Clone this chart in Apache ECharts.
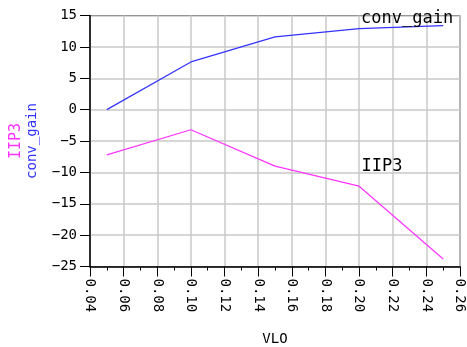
<!DOCTYPE html>
<html><head><meta charset="utf-8">
<script src="https://cdn.jsdelivr.net/npm/echarts@6/dist/echarts.min.js"></script>
<style>html,body{margin:0;padding:0;background:#fff}#c{width:467px;height:347px}</style>
</head><body><div id="c"></div>
<script>
const vlo = [0.05, 0.10, 0.15, 0.20, 0.25];
const convGain = [0.0, 7.6, 11.6, 12.9, 13.4];
const iip3 = [-7.2, -3.2, -9.0, -12.2, -23.8];
const xTicks = ['0.04','0.06','0.08','0.10','0.12','0.14','0.16','0.18','0.20','0.22','0.24','0.26'];
const yTicks = [-25, -20, -15, -10, -5, 0, 5, 10, 15];

const F = 'DejaVu Sans Mono';
const chart = echarts.init(document.getElementById('c'), null, {renderer:'canvas'});

function mk(vals, labelIdx, labelText, off) {
  return vals.map((v, i) => {
    const d = {value: [vlo[i], v]};
    if (i === labelIdx) {
      d.label = {show: true, formatter: labelText, position: 'top', offset: off,
        color: '#000', fontFamily: F, fontSize: 17};
    }
    return d;
  });
}

chart.setOption({
  animation: false,
  grid: {left: 90, right: 7, top: 15.5, bottom: 80.5, show: true, borderColor: '#000', borderWidth: 1,
         containLabel: false, outerBoundsMode: 'none'},
  xAxis: {
    type: 'value', min: 0.04, max: 0.26, interval: 0.02,
    name: 'VLO', nameLocation: 'middle', nameGap: 66,
    nameTextStyle: {fontFamily: F, fontSize: 14, color: '#000'},
    axisLine: {show: true, onZero: false, lineStyle: {color: '#000', width: 1.5}},
    axisTick: {show: true, length: 10, lineStyle: {color: '#000'}},
    minorTick: {show: true, splitNumber: 2, length: 4, lineStyle: {color: '#000'}},
    splitLine: {show: true, lineStyle: {color: '#c8c8c8', width: 1.5}},
    axisLabel: {rotate: -90, margin: 12, fontFamily: F, fontSize: 14, color: '#000',
      formatter: v => { const s = v.toFixed(2); return xTicks.includes(s) ? s : ''; }}
  },
  yAxis: {
    type: 'value', min: yTicks[0], max: yTicks[yTicks.length-1], interval: 5,
    name: '{a|IIP3}\n{b|conv_gain}', nameLocation: 'middle', nameGap: 50, nameRotate: 90,
    nameTextStyle: {fontFamily: F, fontSize: 14, lineHeight: 16,
      rich: {a: {color: '#ff33ff', fontFamily: F, fontSize: 15, lineHeight: 16},
             b: {color: '#3333ff', fontFamily: F, fontSize: 14, lineHeight: 16}}},
    axisLine: {show: true, onZero: false, lineStyle: {color: '#000', width: 1.5}},
    axisTick: {show: true, length: 10, lineStyle: {color: '#000'}},
    splitLine: {show: true, lineStyle: {color: '#c8c8c8', width: 1.5}},
    axisLabel: {margin: 13, fontFamily: F, fontSize: 14, color: '#000',
      formatter: v => String(v).replace('-', '\u2212')}
  },
  series: [
    {name: 'conv_gain', type: 'line', showSymbol: true, symbol: 'circle', symbolSize: 0.01,
     lineStyle: {color: '#3333ff', width: 1.2}, itemStyle: {color: '#3333ff'},
     data: mk(convGain, 4, 'conv_gain', [-36, 7])},
    {name: 'IIP3', type: 'line', showSymbol: true, symbol: 'circle', symbolSize: 0.01,
     lineStyle: {color: '#ff33ff', width: 1.2}, itemStyle: {color: '#ff33ff'},
     data: mk(iip3, 3, 'IIP3', [23, -6])}
  ]
});
</script></body></html>
